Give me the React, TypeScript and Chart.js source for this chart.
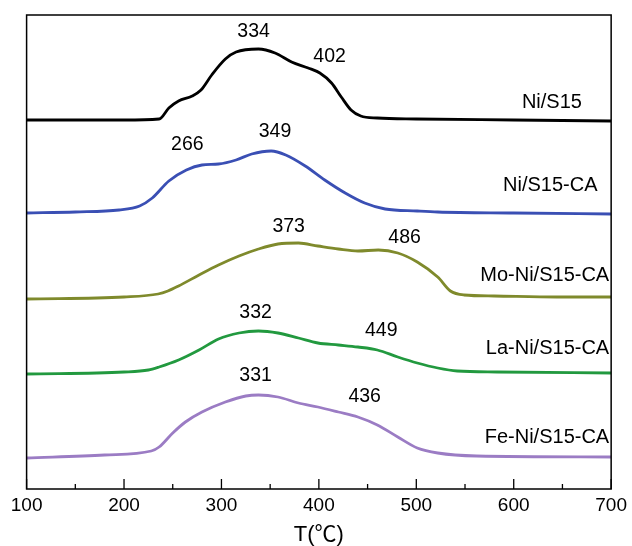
import React, { useEffect, useRef } from "react";
import { Chart, registerables } from "chart.js";

Chart.register(...registerables);

// Temperature (°C) and TPR signal (a.u.) for each sample
const niS15T = [100, 200, 236, 246, 256, 270, 279, 290, 304, 315, 338, 355, 372, 389, 401, 413, 423, 433, 443, 460, 500, 600, 700];
const niS15I = [369, 369, 370, 381, 388, 393, 399, 414, 430, 437, 440, 436, 427, 421, 416, 406, 392, 379, 373, 371, 370, 369, 368];

const niCAT = [100, 150, 195, 216, 229, 246, 264, 280, 297, 315, 331, 351, 366, 386, 406, 427, 447, 468, 501, 522, 600, 700];
const niCAI = [276, 277, 279, 283, 291, 308, 319, 324, 325, 329, 335, 338, 334, 323, 309, 296, 286, 280, 278, 277, 276, 275];

const moT = [100, 200, 235, 245, 256, 277, 297, 318, 338, 358, 379, 399, 420, 440, 461, 481, 501, 522, 535, 549, 580, 644, 700];
const moI = [190, 192, 195, 198, 203, 214, 224, 233, 240, 245, 246, 243, 240, 238, 239, 236, 227, 212, 198, 194, 193, 192, 192];

const laT = [100, 200, 225, 236, 256, 277, 297, 318, 338, 358, 379, 399, 420, 440, 460, 481, 501, 522, 542, 583, 700];
const laI = [115, 117, 119, 122, 129, 139, 150, 156, 158, 156, 151, 146, 144, 142, 139, 132, 126, 121, 118, 117, 116];

const feT = [100, 180, 228, 236, 250, 263, 280, 304, 325, 338, 358, 379, 399, 420, 440, 460, 481, 501, 522, 562, 700];
const feI = [31, 34, 38, 42, 56, 67, 77, 87, 93, 94, 92, 86, 82, 77, 72, 64, 52, 41, 36, 33, 32];

const seriesNames = ["Ni/S15", "Ni/S15-CA", "Mo-Ni/S15-CA", "La-Ni/S15-CA", "Fe-Ni/S15-CA"];
const seriesColors = ["#000000", "#3a4fb4", "#7f8a2c", "#22993f", "#9b7cc4"];

const xTicks = [100, 200, 300, 400, 500, 600, 700];
const xMinorTicks = [150, 250, 350, 450, 550, 650];

// Peak annotations: text, anchor temperature, anchor signal
const peakTexts = ["334", "402", "266", "349", "373", "486", "332", "449", "331", "436"];
const peakAtT = [333, 411, 265, 355, 369, 488, 335, 464, 335, 447];
const peakAtI = [457, 432, 344, 357, 262, 251, 176, 158, 113, 92];

// Sample name labels (right aligned)
const nameAtT = [670, 686, 698, 698, 698];
const nameAtI = [387, 304, 214, 141, 52];

const FONT = "'Liberation Sans', Arial, 'Noto Sans CJK SC', sans-serif";

function toPoints(t: number[], v: number[]) {
  return t.map((x, i) => ({ x, y: v[i] }));
}

const decorPlugin = {
  id: "decor",
  afterDraw(chart: any) {
    const { ctx, chartArea } = chart;
    const xs = chart.scales.x;
    const ys = chart.scales.y;
    const { left, right, top, bottom } = chartArea;
    ctx.save();
    ctx.strokeStyle = "#000";
    ctx.lineWidth = 1.5;
    ctx.strokeRect(left, top, right - left, bottom - top);
    ctx.lineWidth = 1.3;
    ctx.beginPath();
    xTicks.forEach((t) => {
      const px = xs.getPixelForValue(t);
      ctx.moveTo(px, bottom);
      ctx.lineTo(px, bottom - 10);
    });
    xMinorTicks.forEach((t) => {
      const px = xs.getPixelForValue(t);
      ctx.moveTo(px, bottom);
      ctx.lineTo(px, bottom - 5);
    });
    ctx.stroke();

    ctx.fillStyle = "#000";
    ctx.font = `19.5px ${FONT}`;
    ctx.textAlign = "center";
    ctx.textBaseline = "middle";
    peakTexts.forEach((s, i) => {
      ctx.fillText(s, xs.getPixelForValue(peakAtT[i]), ys.getPixelForValue(peakAtI[i]));
    });
    ctx.font = `20px ${FONT}`;
    ctx.textAlign = "right";
    seriesNames.forEach((s, i) => {
      ctx.fillText(s, xs.getPixelForValue(nameAtT[i]), ys.getPixelForValue(nameAtI[i]));
    });
    ctx.textAlign = "center";
    ctx.font = `22px ${FONT}`;
    ctx.fillText("T(℃)", (left + right) / 2, bottom + 46);
    ctx.restore();
  },
};

export default function App() {
  const ref = useRef<HTMLCanvasElement | null>(null);
  useEffect(() => {
    if (!ref.current) return;
    const sets = [
      toPoints(niS15T, niS15I),
      toPoints(niCAT, niCAI),
      toPoints(moT, moI),
      toPoints(laT, laI),
      toPoints(feT, feI),
    ];
    const chart = new Chart(ref.current, {
      type: "line",
      data: {
        datasets: sets.map((d, i) => ({
          label: seriesNames[i],
          data: d,
          borderColor: seriesColors[i],
          backgroundColor: seriesColors[i],
          borderWidth: 2.8,
          pointRadius: 0,
          cubicInterpolationMode: "monotone" as const,
          fill: false,
        })),
      },
      options: {
        animation: false,
        responsive: false,
        devicePixelRatio: 1,
        layout: { padding: { left: 26.6, right: 18, top: 15, bottom: 0 } },
        plugins: { legend: { display: false }, tooltip: { enabled: false } },
        scales: {
          x: {
            type: "linear",
            min: 100,
            max: 700,
            grid: { display: false, drawTicks: false },
            border: { display: false },
            afterBuildTicks: (scale: any) => {
              scale.ticks = xTicks.map((v) => ({ value: v }));
            },
            afterFit: (scale: any) => {
              scale.height = 57;
            },
            ticks: {
              autoSkip: false,
              maxRotation: 0,
              padding: 5,
              color: "#000",
              font: { size: 19, family: FONT },
            },
          },
          y: { display: false, min: 0, max: 474 },
        },
      },
      plugins: [decorPlugin],
    });
    return () => chart.destroy();
  }, []);
  return (
    <div style={{ position: "fixed", left: 0, top: 0, width: 632, height: 546, background: "#fff" }}>
      <canvas ref={ref} width={632} height={546} />
    </div>
  );
}
